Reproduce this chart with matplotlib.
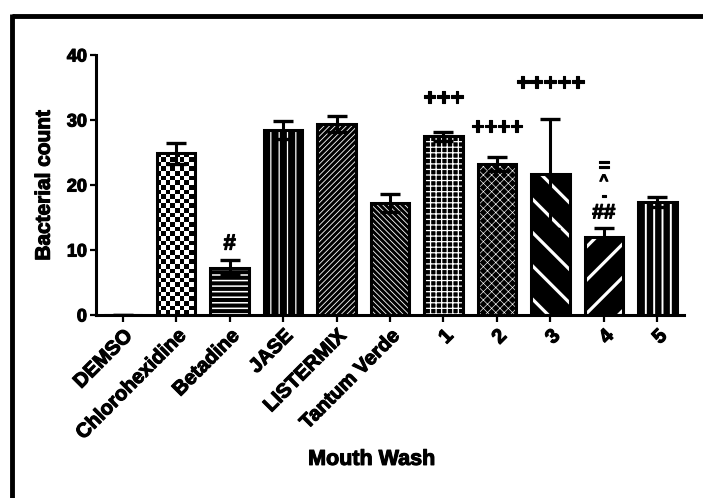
import matplotlib
matplotlib.use('Agg')
import matplotlib.pyplot as plt
import matplotlib.patheffects as pe
import numpy as np
from matplotlib.lines import Line2D

plt.rcParams['font.family'] = ['Liberation Sans', 'DejaVu Sans']
plt.rcParams['font.weight'] = 'bold'

categories = ['DEMSO', 'Chlorohexidine', 'Betadine', 'JASE', 'LISTERMIX',
              'Tantum Verde', '1', '2', '3', '4', '5']
means = [0, 24.9, 7.3, 28.5, 29.4, 17.2, 27.5, 23.2, 21.7, 12.0, 17.4]
errors = [0, 1.6, 1.1, 1.4, 1.2, 1.4, 0.7, 1.1, 8.5, 1.4, 0.8]
y_ticks = [0, 10, 20, 30, 40]

hatches = ['', '', '---', '||', '//////', '\\\\\\\\\\\\', '+++', 'xxxx', '\\', '/', '||']
hatch_lws = [1, 1, 1.1, 0.9, 0.6, 0.6, 0.9, 0.45, 2.3, 2.3, 1.4]

ann_idx = [2, 6, 7, 8, 9, 9, 9, 9]
ann_text = ['#', '+++', '++++', '+++++', '##', '-', '^', '=']
ann_y = [10.9, 33.4, 28.8, 35.7, 15.7, 18.3, 20.6, 22.9]
ann_size = [16, 17, 16, 17, 15, 11, 11, 14]

stroke = [pe.withStroke(linewidth=0.8, foreground='black')]

fig = plt.figure(figsize=(7.03, 4.98), dpi=100)
ax = fig.add_axes([0.1366, 0.3675, 0.8364, 0.5221])

x = np.arange(len(categories))
bars = ax.bar(x, means, width=0.72, color='black', edgecolor='white',
              linewidth=0, zorder=2)
for b, h, lw in zip(bars, hatches, hatch_lws):
    b.set_hatch(h)
    if hasattr(b, 'set_hatch_linewidth'):
        b.set_hatch_linewidth(lw)
    else:
        b._hatch_linewidth = lw

# checkerboard texture for Chlorohexidine
ny, nx = int(260 / 4.6), int(588 / 4.6)
checker = np.add.outer(np.arange(ny), np.arange(nx)) % 2
im = ax.imshow(checker, cmap='gray', extent=[0, 1, 0, 1], transform=ax.transAxes,
               aspect='auto', interpolation='nearest', zorder=2.5)
im.set_clip_path(bars[1])

ax.bar(x, means, width=0.72, fill=False, edgecolor='black', linewidth=2.2, zorder=3)
ax.errorbar(x, means, yerr=errors, fmt='none', ecolor='black', elinewidth=2.2,
            capsize=7, capthick=2.4, zorder=4)

for i, t, y, s in zip(ann_idx, ann_text, ann_y, ann_size):
    ax.text(x[i], y, t, ha='center', va='center', fontsize=s, fontweight='bold',
            path_effects=stroke)

ax.set_xlim(-0.5, 10.5)
ax.set_ylim(0, 40)
ax.set_yticks(y_ticks)
ax.set_xticks(x)
ax.set_xticklabels(categories, rotation=45, ha='right', rotation_mode='anchor',
                   fontsize=14.5, fontweight='bold')
ax.set_yticklabels([str(v) for v in y_ticks], fontsize=13, fontweight='bold')
for lab in ax.get_xticklabels() + ax.get_yticklabels():
    lab.set_path_effects(stroke)
ax.tick_params(axis='y', width=1.6, length=4.5, pad=2)
ax.tick_params(axis='x', width=1.6, length=5, pad=3)
for s in ['top', 'right']:
    ax.spines[s].set_visible(False)
for s in ['left', 'bottom']:
    ax.spines[s].set_linewidth(2.2)

ax.set_ylabel('Bacterial count', fontsize=15, fontweight='bold', path_effects=stroke)
ax.yaxis.set_label_coords(-0.072, 0.5)
ax.set_xlabel('Mouth Wash', fontsize=15.5, fontweight='bold', path_effects=stroke)
ax.xaxis.set_label_coords(0.469, -0.515)

# outer frame (top and left edges)
fig.add_artist(Line2D([12 / 703, 1.0], [1 - 16 / 498, 1 - 16 / 498],
                      transform=fig.transFigure, color='black', lw=3.5,
                      solid_capstyle='butt'))
fig.add_artist(Line2D([12 / 703, 12 / 703], [0, 1 - 14 / 498],
                      transform=fig.transFigure, color='black', lw=3.5,
                      solid_capstyle='butt'))

fig.savefig('out.png', dpi=100)
